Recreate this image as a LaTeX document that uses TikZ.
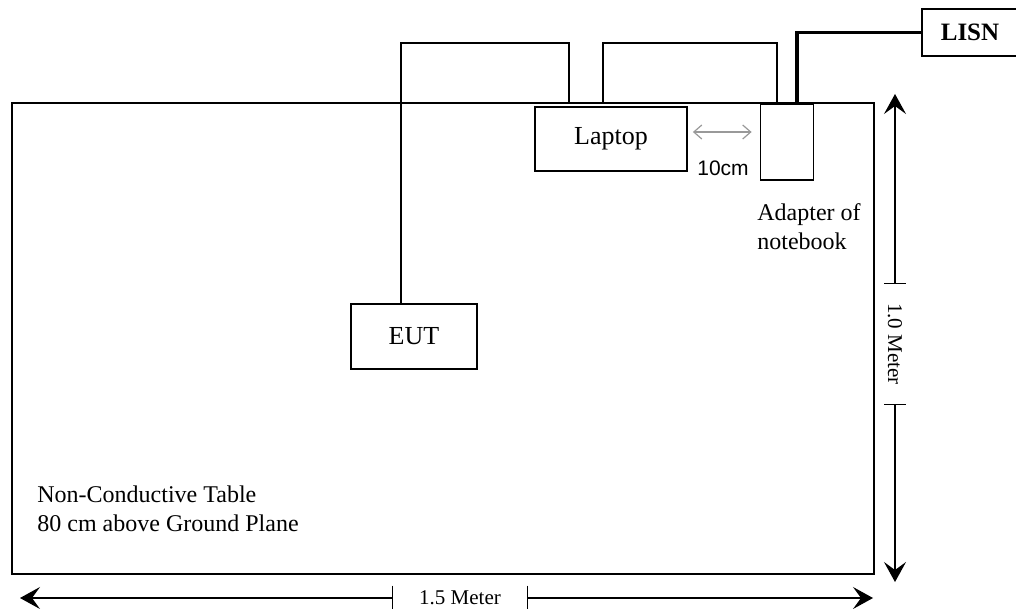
\documentclass[tikz,border=0pt]{standalone}
\usepackage{fontspec}
\setmainfont{Liberation Serif}
\newfontfamily\arialfont{Liberation Sans}
\usetikzlibrary{arrows.meta,calc}

\begin{document}
\begin{tikzpicture}[x=0.5pt,y=-0.5pt,font=\fontsize{12}{14.5}\selectfont,
    devbox/.style={draw,line width=0.9pt,inner sep=0pt,font=\fontsize{13}{15}\selectfont},
    wire/.style={line width=0.9pt},
    mains/.style={line width=1.8pt},
    dimline/.style={line width=0.6pt,-{Stealth[length=10pt,width=11pt,inset=4pt]}},
    dimtext/.style={inner sep=0pt,font=\fontsize{10.5}{12}\selectfont}]
\useasboundingbox (0,0) rectangle (1016,609);

\node[draw,line width=1.4pt,inner sep=0pt,minimum width=431pt,minimum height=235.5pt] (table) at (443,338.5) {};
\node[devbox,minimum width=76pt,minimum height=32pt] (laptop) at (611,139) {Laptop};
\node[devbox,minimum width=26.5pt,minimum height=38pt] (adapter) at (787,142) {};
\node[devbox,minimum width=63pt,minimum height=32.5pt] (eut) at (414,336.5) {EUT};
\node[devbox,minimum width=48pt,minimum height=23.5pt,font=\fontsize{12.5}{15}\selectfont\bfseries] (lisn) at (970,32.5) {LISN};

\coordinate (w1) at (569,103);
\coordinate (w2) at (603,103);
\coordinate (w3) at (777,103);
\coordinate (w4) at (797,103);
\draw[wire] ($(eut.north)+(-13,0)$) |- (569,43) -- (w1);
\draw[wire] (w2) |- (777,43) -- (w3);
\draw[mains] (w4) |- (lisn.west);

\draw[gray!80,line width=0.6pt,{Straight Barb[length=4pt,width=7pt]}-{Straight Barb[length=4pt,width=7pt]}]
  ($(laptop.east)+(5,-7)$) -- ($(adapter.west)+(-8,-10)$);
\node[font=\arialfont\fontsize{10.5}{12}\selectfont] (gap) at (723,168) {10cm};

\node[anchor=north west,align=left,inner sep=0pt] (adlabel) at (757,203) {Adapter of\\notebook};
\node[anchor=north west,align=left,inner sep=0pt] (tablelabel) at (37,485) {Non-Conductive Table\\80 cm above Ground Plane};

\coordinate (vtop) at (895,94);
\coordinate (vbot) at (895,582);
\node[dimtext,rotate=-90,minimum width=60pt,minimum height=10.5pt] (vlen) at (895,344) {1.0 Meter};
\draw[line width=0.6pt] (vlen.north west) -- (vlen.south west);
\draw[line width=0.6pt] (vlen.north east) -- (vlen.south east);
\draw[dimline] (vlen.west) -- (vtop);
\draw[dimline] (vlen.east) -- (vbot);

\coordinate (hleft) at (20,598);
\coordinate (hright) at (873,598);
\node[dimtext,minimum width=67pt,minimum height=12pt] (hlen) at (460,598) {1.5 Meter};
\draw[line width=0.6pt] (hlen.north west) -- (hlen.south west);
\draw[line width=0.6pt] (hlen.north east) -- (hlen.south east);
\draw[dimline] (hlen.west) -- (hleft);
\draw[dimline] (hlen.east) -- (hright);
\end{tikzpicture}
\end{document}
